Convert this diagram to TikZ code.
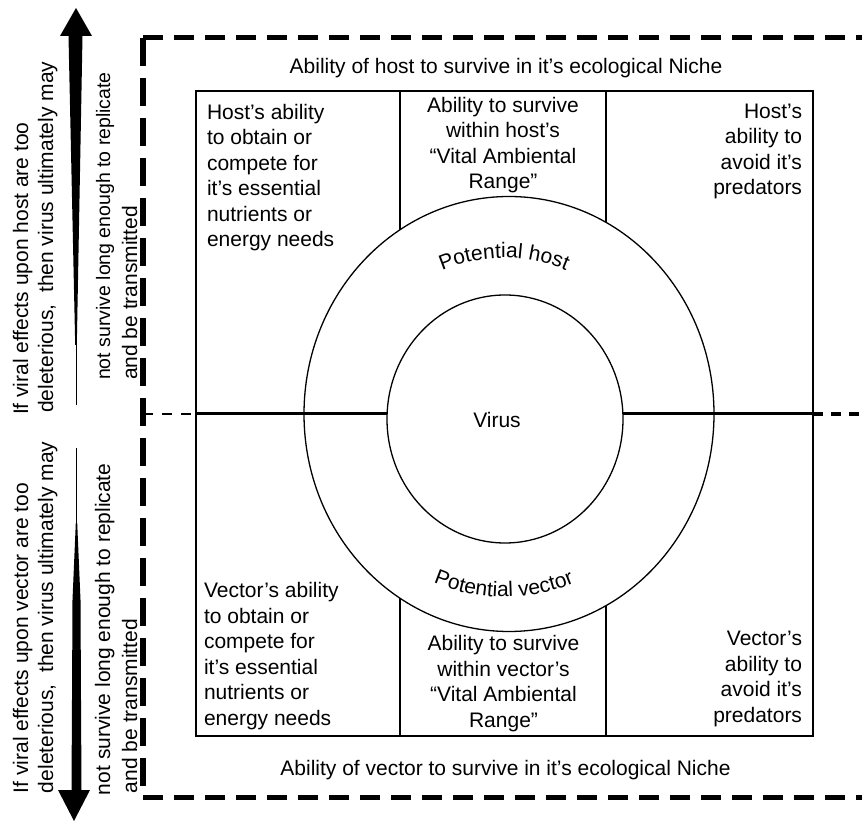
\documentclass[tikz,border=0pt]{standalone}
\usepackage{fontspec}
\setmainfont{Liberation Sans}
\usetikzlibrary{decorations.text}
\newcommand\diagfont{\fontsize{21}{25.5}\selectfont}
\begin{document}
\begin{tikzpicture}[x=1pt, y=1pt,
  txt/.style={font=\diagfont, inner sep=0pt, outer sep=0pt},
  sidetxt/.style={txt, rotate=90, anchor=base west},
  nichebox/.style={line width=1.4pt},
  divider/.style={line width=2.8pt},
  ring/.style={line width=1.3pt},
  midline/.style={line width=3pt},
  frame/.style={line width=5pt, dash pattern=on 20pt off 11pt},
  frameside/.style={line width=5.5pt, dash pattern=on 28pt off 12pt},
  leftlink/.style={line width=2pt, dash pattern=on 10pt off 9pt},
  rightlink/.style={line width=4pt, dash pattern=on 10pt off 8pt},
]
\useasboundingbox (0,0) rectangle (862,822);

% outer dashed frame, open on the right
\draw[frame] (143,784) -- (862,784);
\draw[frame] (143,25) -- (862,25);
\draw[frameside] (143,784) -- (143,25);

% niche box and its dividers
\draw[nichebox] (196,86) rectangle (813,731);
\draw[divider] (400,731) -- (400,592);
\draw[divider] (606,731) -- (606,600);
\draw[divider] (400,224) -- (400,86);
\draw[divider] (606,216) -- (606,86);

% host / vector ring and virus core
\draw[ring] (509,408) ellipse [x radius=205, y radius=217.5];
\draw[ring] (505,403) ellipse [x radius=118, y radius=124];

% horizontal axis
\draw[leftlink] (143,408) -- (196,408);
\draw[midline] (196,408) -- (387,408);
\draw[midline] (623,408) -- (813,408);
\draw[rightlink] (813,408) -- (862,408);

% tapered arrow pointing up (host side)
\fill (76,814) -- (92,786) -- (82.5,786) -- (76.8,477) -- (75.2,477) -- (68.5,786) -- (60,786) -- cycle;
\draw[line width=1pt] (76,478) -- (76,417);

% tapered arrow pointing down (vector side)
\fill (74,1) -- (90,32) -- (81.5,32) -- (81,122) -- (80.5,222) -- (77.2,299) -- (75.8,299)
      -- (72.5,222) -- (72,122) -- (71.5,32) -- (58,32) -- cycle;
\draw[line width=1pt] (76.5,298) -- (76.5,374);

% niche captions
\node[txt, anchor=base] (hostniche) at (506,748) {Ability of host to survive in it’s ecological Niche};
\node[txt, anchor=base] (vectorniche) at (505.5,46) {Ability of vector to survive in it’s ecological Niche};

% host cells
\node[txt, align=left, anchor=west] (hostfood) at (207,644.5)
  {Host’s ability\\to obtain or\\compete for\\it’s essential\\nutrients or\\energy needs};
\node[txt, align=center] (hostrange) at (503,677)
  {Ability to survive\\within host’s\\“Vital Ambiental\\Range”};
\node[txt, align=right, anchor=east] (hostpred) at (802,670.5)
  {Host’s\\ability to\\avoid it’s\\predators};

% vector cells
\node[txt, align=left, anchor=west] (vectorfood) at (204,166)
  {Vector’s ability\\to obtain or\\compete for\\it’s essential\\nutrients or\\energy needs};
\node[txt, align=center] (vectorrange) at (503.5,138.5)
  {Ability to survive\\within vector’s\\“Vital Ambiental\\Range”};
\node[txt, align=right, anchor=east] (vectorpred) at (802,143)
  {Vector’s\\ability to\\avoid it’s\\predators};

% core label
\node[txt, anchor=base] (virus) at (497,394.5) {Virus};

% ring labels set along arcs
\path[decorate, decoration={text along path, text align=center,
      text={|\diagfont|Potential host}}]
  (504,406) ++(155:158) arc[start angle=155, end angle=25, radius=158];
\path[decorate, decoration={text along path, text align=center,
      text={|\diagfont|Potential vector}}]
  (504,406) ++(205:181) arc[start angle=205, end angle=335, radius=181];

% side notes, host half
\node[sidetxt] (hnoteA) at (28,407) {If viral effects upon host are too};
\node[sidetxt] (hnoteB) at (53,409) {deleterious,\ \ then virus ultimately may};
\node[sidetxt, font=\fontsize{19.5}{24}\selectfont] (hnoteC) at (110,442) {not survive long enough to replicate};
\node[sidetxt] (hnoteD) at (137,442) {and be transmitted};

% side notes, vector half
\node[sidetxt] (vnoteA) at (28,29) {If viral effects upon vector are too};
\node[sidetxt] (vnoteB) at (53,29) {deleterious,\ \ then virus ultimately may};
\node[sidetxt] (vnoteC) at (110,27) {not survive long enough to replicate};
\node[sidetxt] (vnoteD) at (137,29) {and be transmitted};
\end{tikzpicture}
\end{document}
